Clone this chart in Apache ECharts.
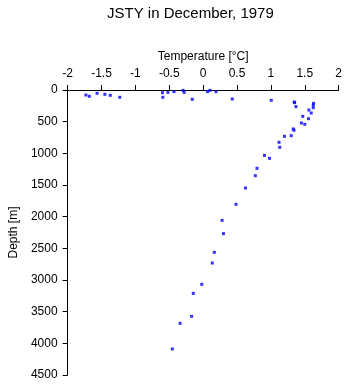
<!DOCTYPE html>
<html><head><meta charset="utf-8">
<script src="https://cdn.jsdelivr.net/npm/echarts@6/dist/echarts.min.js"></script>
<style>html,body{margin:0;padding:0;background:#fff}#c{width:345px;height:384px}</style>
</head><body><div id="c"></div>
<script>
var titleText = 'JSTY in December, 1979';
var xName = 'Temperature [\u00B0C]';
var yName = 'Depth [m]';
var temperature = [-1.73,-1.68,-1.565,-1.45,-1.37,-1.23,-0.60,-0.595,-0.52,-0.43,-0.295,-0.28,-0.16,0.065,0.10,0.19,0.43,1.005,1.345,1.35,1.37,1.63,1.625,1.625,1.56,1.595,1.47,1.555,1.45,1.50,1.33,1.34,1.30,1.20,1.12,1.13,0.905,0.98,0.795,0.77,0.625,0.485,0.28,0.30,0.165,0.135,-0.02,-0.145,-0.17,-0.34,-0.455];
var depth = [79,100,52,68,84,115,42,115,37,26,5,37,147,26,5,26,142,163,190,200,263,210,237,279,316,363,416,453,521,542,615,635,721,731,826,905,1032,1079,1237,1353,1547,1805,2058,2268,2563,2732,3068,3211,3574,3684,4089];
var xTicks = {min:-2, max:2, interval:0.5};
var yTicks = {min:0, max:4500, interval:500};

var pts = temperature.map(function(t,i){return [t, depth[i]];});
var font = 'Liberation Sans';
var chart = echarts.init(document.getElementById('c'), null, {renderer:'canvas'});
chart.setOption({
  animation:false,
  backgroundColor:'#fff',
  title:{text:titleText, left:102, top:1, textStyle:{fontFamily:font, fontSize:15, fontWeight:'normal', color:'#000'}},
  grid:{left:54, right:6, top:90, bottom:9, containLabel:false},
  xAxis:{type:'value', position:'top', min:xTicks.min, max:xTicks.max, interval:xTicks.interval,
    name:xName, nameLocation:'middle', nameGap:24, nameTextStyle:{fontFamily:font, fontSize:12, color:'#000'},
    axisLine:{show:true, onZero:false, lineStyle:{color:'#000', width:1}},
    axisTick:{show:true, inside:false, length:5, lineStyle:{color:'#000'}},
    axisLabel:{fontFamily:font, fontSize:12, color:'#000', margin:10, formatter:function(v){return String(v);}},
    splitLine:{show:false}},
  yAxis:{type:'value', inverse:true, min:yTicks.min, max:yTicks.max, interval:yTicks.interval,
    name:yName, nameLocation:'middle', nameGap:47, nameRotate:90, nameTextStyle:{fontFamily:font, fontSize:12, color:'#000'},
    axisLine:{show:true, onZero:false, lineStyle:{color:'#000', width:1}},
    axisTick:{show:true, inside:false, length:5, lineStyle:{color:'#000'}},
    axisLabel:{fontFamily:font, fontSize:12, color:'#000', margin:10, formatter:function(v){return String(v);}},
    splitLine:{show:false}},
  series:[{type:'scatter', data:pts, symbol:'rect', symbolSize:3, itemStyle:{color:'#0000ff'}}]
});
</script></body></html>
